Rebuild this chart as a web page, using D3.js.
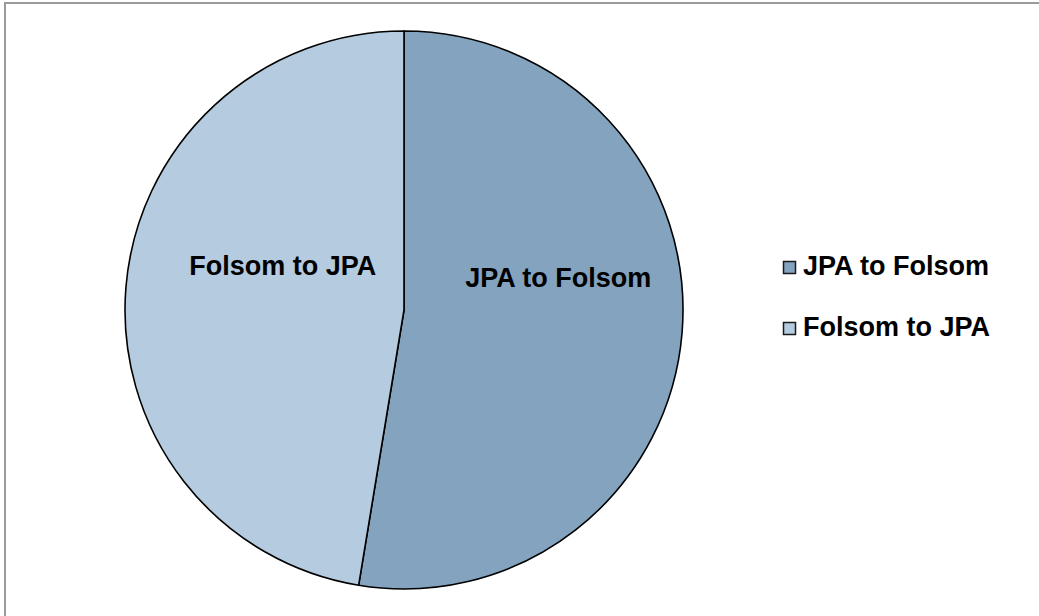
<!DOCTYPE html>
<html>
<head>
<meta charset="utf-8">
<script src="https://cdn.jsdelivr.net/npm/d3@7"></script>
<style>
  html, body { margin: 0; padding: 0; background: #fff; }
  svg { display: block; }
  text { font-family: "Liberation Sans", Arial, sans-serif; font-weight: bold; fill: #000; }
</style>
</head>
<body>
<svg id="chart" width="1039" height="616"></svg>
<script>
// Trip direction split
const categories = ["JPA to Folsom", "Folsom to JPA"];
const shares = [52.6, 47.4];
const colors = ["#84a3be", "#b5cbdf"];

const width = 1039, height = 616;
const svg = d3.select("#chart");

// outer chart frame
svg.append("rect")
  .attr("x", 5).attr("y", 3)
  .attr("width", 1100).attr("height", 700)
  .attr("fill", "none")
  .attr("stroke", "#9a9a9a")
  .attr("stroke-width", 2);

const cx = 404, cy = 310, radius = 279;

const pie = d3.pie().sort(null).value(d => d.value).startAngle(0).endAngle(2 * Math.PI);
const data = categories.map((c, i) => ({ name: c, value: shares[i], color: colors[i] }));
const arcs = pie(data);

const arc = d3.arc().innerRadius(0).outerRadius(radius);

const g = svg.append("g").attr("transform", `translate(${cx},${cy})`);

g.selectAll("path.slice")
  .data(arcs)
  .join("path")
  .attr("class", "slice")
  .attr("d", arc)
  .attr("fill", d => d.data.color)
  .attr("stroke", "#000")
  .attr("stroke-width", 1.6)
  .attr("stroke-linejoin", "round");

// label placement inside each slice, as fractions of the radius
const labelPlace = [[0.553, -0.116], [-0.435, -0.159]];

g.selectAll("text.slice-label")
  .data(arcs)
  .join("text")
  .attr("class", "slice-label")
  .attr("x", (d, i) => labelPlace[i][0] * radius)
  .attr("y", (d, i) => labelPlace[i][1] * radius)
  .attr("dy", "0.35em")
  .attr("text-anchor", "middle")
  .attr("font-size", 27)
  .text(d => d.data.name);

// legend
const legend = svg.append("g").attr("transform", "translate(783,261)");
const rowGap = 61;
const items = legend.selectAll("g")
  .data(data)
  .join("g")
  .attr("transform", (d, i) => `translate(0,${i * rowGap})`);

items.append("rect")
  .attr("x", 0.5).attr("y", 0.5)
  .attr("width", 12).attr("height", 12)
  .attr("fill", d => d.color)
  .attr("stroke", "#1a1a1a")
  .attr("stroke-width", 1.5);

items.append("text")
  .attr("x", 20)
  .attr("y", 14)
  .attr("font-size", 27)
  .text(d => d.name);
</script>
</body>
</html>
